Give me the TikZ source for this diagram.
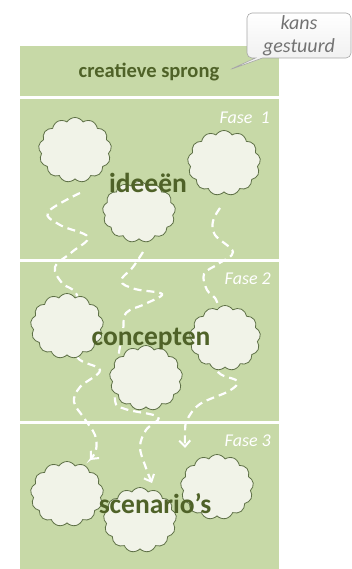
\documentclass[tikz,border=0pt]{standalone}
\usepackage{fontspec}
\setmainfont{Carlito}
\usetikzlibrary{shapes.symbols,shapes.callouts,arrows.meta}
\definecolor{panelgreen}{HTML}{C7D9A7}
\definecolor{textgreen}{HTML}{4F6228}
\definecolor{cloudfill}{HTML}{F1F3E8}
\definecolor{cloudline}{HTML}{5E7046}
\definecolor{calloutgray}{HTML}{737373}
\tikzset{
  band/.style={fill=panelgreen, draw=none},
  sepline/.style={white, line width=2.6pt},
  puff/.style={cloud, cloud puffs=13, cloud puff arc=115, aspect=1.1,
    draw=cloudline, fill=cloudfill, line width=0.8pt,
    minimum width=73pt, minimum height=65pt, inner sep=0pt},
  phaselabel/.style={font=\fontsize{27.5}{30}\selectfont\bfseries, text=textgreen, inner sep=0pt},
  fase/.style={font=\fontsize{18}{20}\selectfont\itshape, text=white, inner sep=0pt, anchor=east},
  dashpath/.style={white, line width=2.2pt, dash pattern=on 8pt off 5pt},
  dasharrow/.style={dashpath, -{Straight Barb[length=6pt,width=11pt,line width=2pt]}},
}
\begin{document}
\begin{tikzpicture}[x=1pt,y=-1pt]
\useasboundingbox (0,0) rectangle (352,569);
% panel
\fill[panelgreen] (20,46) rectangle (279,569);
\draw[sepline] (20,97.5) -- (279,97.5);
\draw[sepline] (20,260.5) -- (279,260.5);
\draw[sepline] (20,422.5) -- (279,422.5);

% labels of phases
\node[fase] (f1) at (270,118) {Fase\ \ 1};
\node[fase] (f2) at (271,279) {Fase 2};
\node[fase] (f3) at (271,441) {Fase 3};

% dashed paths
\coordinate (A0) at (80,193);
\coordinate (Aend) at (90,460);
\coordinate (B0) at (143,252);
\coordinate (Bend) at (152,483);
\coordinate (C0) at (220,208);
\coordinate (Cend) at (185,448);
\draw[dasharrow] plot[smooth, tension=0.6] coordinates {(A0) (48,212) (60,225) (88,237) (72,252) (55,267) (62,283) (77,295) (72,325) (77,357) (100,370) (80,387) (74,402) (84,418) (95,435) (96,450) (Aend)};
\draw[dasharrow] plot[smooth, tension=0.6] coordinates {(B0) (133,267) (121,281) (135,289) (162,294) (145,304) (126,313) (123,330) (118,360) (115,400) (125,409) (158,417) (146,430) (140,447) (146,468) (Bend)};
\draw[dasharrow] plot[smooth, tension=0.6] coordinates {(C0) (213,221) (215,235) (233,252) (218,264) (204,274) (207,290) (217,302) (222,335) (217,370) (237,381) (229,391) (200,404) (187,420) (185,433) (Cend)};

% clouds fase 1
\node[puff] (c11) at (75,150) {};
\node[puff] (c12) at (224,163) {};
\node[puff, minimum height=61pt] (c13) at (139,212) {};
% clouds fase 2
\node[puff] (c21) at (67,326) {};
\node[puff, minimum width=71pt] (c22) at (225,338) {};
\node[puff] (c23) at (146,378) {};
% clouds fase 3
\node[puff] (c31) at (67,494) {};
\node[puff] (c32) at (217,487) {};
\node[puff] (c33) at (140,520) {};

% phase words
\node[phaselabel] (ideeen) at (148,183) {ideeën};
\node[phaselabel] (concepten) at (151,339) {concepten};
\node[phaselabel] (scenarios) at (155,504) {scenario’s};

% top band text and callout
\node[font=\fontsize{20.5}{22}\selectfont\bfseries, text=textgreen, inner sep=0pt] (sprong) at (149,72) {creatieve sprong};
\coordinate (tip) at (229,70);
\node[rectangle callout, rounded corners=5pt, draw=gray!70, line width=0.6pt,
  top color=white, bottom color=gray!14,
  minimum width=104pt, minimum height=45pt, inner sep=0pt,
  callout absolute pointer={(tip)}, callout pointer width=7pt,
  font=\fontsize{20}{23}\selectfont\itshape, text=calloutgray, align=center]
  (kans) at (299,35.5) {kans\\gestuurd};
\end{tikzpicture}
\end{document}
